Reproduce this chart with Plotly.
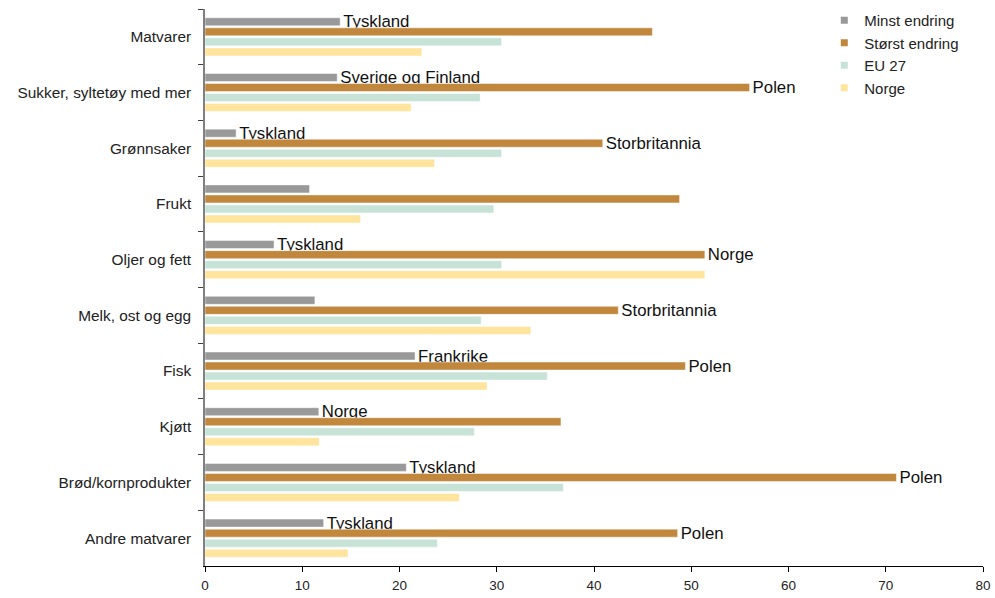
import plotly.graph_objects as go

categories = [
    "Matvarer", "Sukker, syltetøy med mer", "Grønnsaker", "Frukt",
    "Oljer og fett", "Melk, ost og egg", "Fisk", "Kjøtt",
    "Brød/kornprodukter", "Andre matvarer",
]

minst_endring = [13.9, 13.6, 3.2, 10.75, 7.1, 11.3, 21.6, 11.7, 20.7, 12.2]
storst_endring = [46.0, 56.0, 40.9, 48.8, 51.4, 42.5, 49.4, 36.6, 71.1, 48.6]
eu27 = [30.5, 28.3, 30.5, 29.7, 30.5, 28.4, 35.2, 27.7, 36.85, 23.9]
norge = [22.3, 21.2, 23.6, 16.0, 51.4, 33.5, 29.0, 11.75, 26.15, 14.7]

minst_land = ["Tyskland", "Sverige og Finland", "Tyskland", "", "Tyskland",
              "", "Frankrike", "Norge", "Tyskland", "Tyskland"]
storst_land = ["", "Polen", "Storbritannia", "", "Norge",
               "Storbritannia", "Polen", "", "Polen", "Polen"]

series = [
    ("Minst endring", minst_endring, "#999999", minst_land),
    ("Størst endring", storst_endring, "#C0873D", storst_land),
    ("EU 27", eu27, "#C7E3D7", None),
    ("Norge", norge, "#FFE49E", None),
]

font_family = "Liberation Sans, Arial, sans-serif"

fig = go.Figure()
for name, values, color, labels in series:
    fig.add_trace(go.Bar(
        name=name,
        y=categories,
        x=values,
        orientation="h",
        marker=dict(color=color, line=dict(color="rgba(255,255,255,0.6)", width=0.8)),
        text=labels,
        textposition="outside" if labels else "none",
        textfont=dict(family=font_family, size=16.8, color="#111111"),
        constraintext="none",
        cliponaxis=False,
        showlegend=False,
        legendgroup=name,
        hoverinfo="x+y+name",
    ))

# small square legend keys
for name, values, color, labels in series:
    fig.add_trace(go.Scatter(
        name=name,
        x=[None],
        y=[None],
        mode="markers",
        marker=dict(symbol="square", size=7, color=color),
        legendgroup=name,
        showlegend=True,
    ))

fig.update_layout(
    width=995,
    height=598,
    barmode="group",
    bargap=0.28,
    bargroupgap=0.2,
    plot_bgcolor="white",
    paper_bgcolor="white",
    margin=dict(l=205, r=12, t=9, b=32, autoexpand=False),
    font=dict(family=font_family, size=15, color="#222222"),
    legend=dict(
        x=0.796, y=1.009, xanchor="left", yanchor="top",
        font=dict(size=15, color="#222222"),
        itemwidth=30,
        bgcolor="rgba(0,0,0,0)",
        traceorder="normal",
    ),
    xaxis=dict(
        range=[0, 80],
        dtick=10,
        showgrid=False,
        zeroline=False,
        showline=True,
        linecolor="#000000",
        linewidth=1,
        ticks="outside",
        ticklen=5,
        tickcolor="#000000",
        ticklabelstandoff=2,
        tickfont=dict(size=13.5, color="#222222"),
    ),
    yaxis=dict(
        autorange="reversed",
        showgrid=False,
        showline=True,
        linecolor="#808080",
        linewidth=1.5,
        ticks="outside",
        tickson="boundaries",
        ticklen=5,
        tickcolor="#404040",
        ticklabelstandoff=9,
        tickfont=dict(size=15.4, color="#222222"),
    ),
)

fig.write_html("out.html")
